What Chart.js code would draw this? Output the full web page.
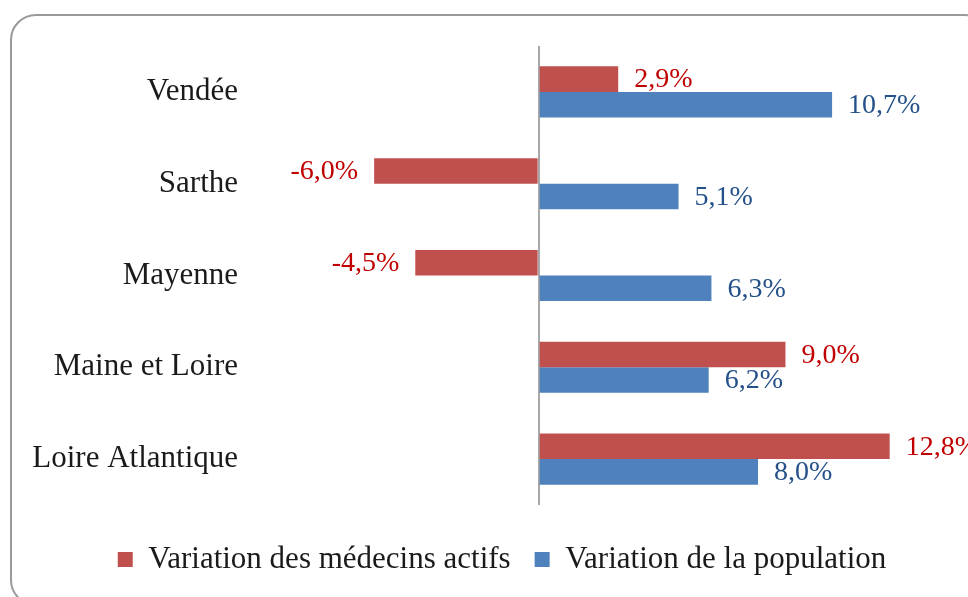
<!DOCTYPE html>
<html>
<head>
<meta charset="utf-8">
<script src="https://cdn.jsdelivr.net/npm/chart.js@4"></script>
<style>
  html, body { margin: 0; padding: 0; background: #fff; overflow: hidden; }
  #wrap { position: relative; width: 968px; height: 597px; }
  #cadre {
    position: absolute; left: 10px; top: 14px; width: 980px; height: 592px;
    box-sizing: border-box; border: 2px solid #9a9a9a; border-radius: 26px;
  }
  #chart { position: absolute; left: 0; top: 0; }
</style>
</head>
<body>
<div id="wrap">
  <div id="cadre"></div>
  <canvas id="chart" width="968" height="597"></canvas>
</div>
<script>
// Départements (du haut vers le bas)
const departements = ['Vendée', 'Sarthe', 'Mayenne', 'Maine et Loire', 'Loire Atlantique'];
// Variations en %
const variationMedecins = [2.9, -6.0, -4.5, 9.0, 12.8];
const variationPopulation = [10.7, 5.1, 6.3, 6.2, 8.0];
const nomsSeries = ['Variation des médecins actifs', 'Variation de la population'];

const POLICE = 'Liberation Serif';

// étiquettes de valeurs au bout des barres
const etiquettesValeurs = {
    id: 'etiquettesValeurs',
    afterDatasetsDraw(chart) {
        const ctx = chart.ctx;
        ctx.save();
        ctx.font = `28px "${POLICE}"`;
        ctx.textBaseline = 'middle';
        chart.data.datasets.forEach((ds, i) => {
            const meta = chart.getDatasetMeta(i);
            meta.data.forEach((bar, j) => {
                const v = ds.data[j];
                const texte = v.toFixed(1).replace('.', ',') + '%';
                ctx.fillStyle = ds.couleurTexte;
                if (v >= 0) {
                    ctx.textAlign = 'left';
                    ctx.fillText(texte, bar.x + 16, bar.y + 1);
                } else {
                    ctx.textAlign = 'right';
                    ctx.fillText(texte, bar.x - 16, bar.y + 1);
                }
            });
        });
        ctx.restore();
    }
};

// la légende est un peu décalée vers la droite dans l'original
const decalageLegende = {
    id: 'decalageLegende',
    afterLayout(chart) {
        chart.legend.left += 17;
        chart.legend.right += 17;
    }
};

new Chart(document.getElementById('chart'), {
    type: 'bar',
    data: {
        labels: departements,
        datasets: [
            {
                label: nomsSeries[0],
                data: variationMedecins,
                backgroundColor: '#C0504D',
                couleurTexte: '#C00000',
                categoryPercentage: 0.557,
                barPercentage: 1
            },
            {
                label: nomsSeries[1],
                data: variationPopulation,
                backgroundColor: '#4F81BD',
                couleurTexte: '#25518A',
                categoryPercentage: 0.557,
                barPercentage: 1
            }
        ]
    },
    options: {
        indexAxis: 'y',
        responsive: false,
        animation: false,
        layout: {
            padding: { top: 46, left: 20, right: 18, bottom: 12 }
        },
        plugins: {
            tooltip: { enabled: false },
            legend: {
                display: true,
                position: 'bottom',
                labels: {
                    boxWidth: 15,
                    boxHeight: 15,
                    padding: 24,
                    color: '#1a1a1a',
                    font: { family: POLICE, size: 31 }
                }
            }
        },
        scales: {
            x: {
                min: -10.6,
                max: 15,
                ticks: { display: false, stepSize: 1 },
                border: { display: false },
                grid: {
                    drawTicks: false,
                    lineWidth: 2,
                    color: (c) => (c.tick && c.tick.value === 0 ? '#A8A8A8' : 'rgba(0,0,0,0)')
                },
                afterFit: (scale) => { scale.height = 15; }
            },
            y: {
                border: { display: false },
                grid: { display: false, drawTicks: false },
                ticks: {
                    padding: 10,
                    color: '#1a1a1a',
                    font: { family: POLICE, size: 31 }
                },
                afterFit: (scale) => { scale.width = 228; }
            }
        }
    },
    plugins: [etiquettesValeurs, decalageLegende]
});
</script>
</body>
</html>
